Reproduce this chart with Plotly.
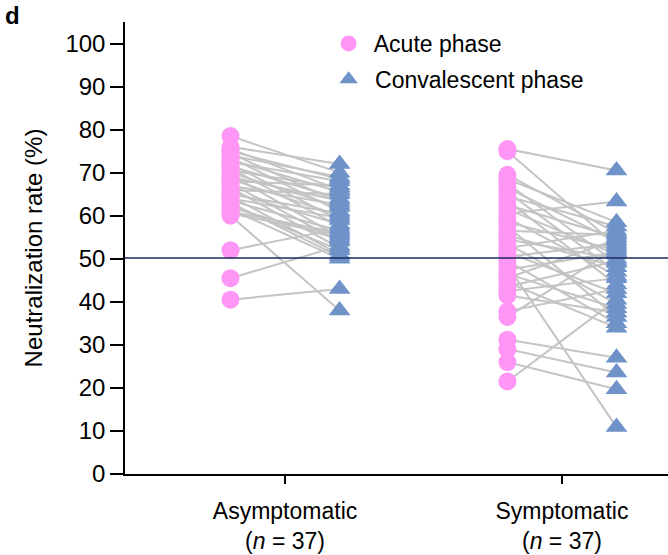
import plotly.graph_objects as go

categories = ["Asymptomatic<br>(<i>n</i> = 37)", "Symptomatic<br>(<i>n</i> = 37)"]
y_ticks = [0, 10, 20, 30, 40, 50, 60, 70, 80, 90, 100]
threshold = 50.2

asym_acute = [78.5, 76, 75.5, 75, 74.5, 74, 73.5, 73, 72.5, 72, 71.5, 71, 70.5, 70, 69.5, 69,
              68.5, 68, 67.5, 67, 66.5, 66, 65.5, 65, 64.5, 64, 63.5, 63, 62.5, 62, 61.5, 61,
              60.5, 60, 52, 45.5, 40.5]
asym_conv = [70, 72, 66, 68.5, 63, 69, 61, 65.5, 68, 59, 64, 57.5, 66.5, 62, 55, 63.5,
             60, 67, 54, 62.5, 52.5, 65, 58, 60.5, 51, 59.5, 56.5, 50.5, 52, 54.5, 50, 56,
             55.5, 38, 57, 53, 43]

sym_acute = [75.5, 75, 69.5, 68.5, 67.5, 66.5, 65.5, 64.5, 63.5, 62.5, 61.5, 60.5, 59.5, 58.5,
             57.5, 56.5, 55.5, 54.5, 53.5, 52.5, 51.5, 50.5, 49.5, 48.5, 47.5, 46.5, 45.5, 44.5,
             43.5, 42.5, 41.5, 37.8, 36.5, 31.2, 29, 26, 21.5]
sym_conv = [70.5, 53, 56, 58.5, 49, 54, 47, 57.5, 44, 55, 51, 63.3, 46, 52, 36.5, 55.5,
            48, 50, 39.5, 56.5, 42, 53.5, 35, 10.9, 51.5, 38.5, 54.5, 34, 49.5, 45.5, 37.5,
            43, 52.5, 27, 23.6, 19.7, 40.5]

group_pos = [1, 2]
offset = 0.197

PINK = "#FF96F5"
BLUE = "#6F93C9"
GRAY = "#C4C4C4"
NAVY = "#1B2A5E"
FONT = "Liberation Sans, Arial, Helvetica, sans-serif"

fig = go.Figure()

# connecting lines
lx, ly = [], []
for pos, acute, conv in [(group_pos[0], asym_acute, asym_conv), (group_pos[1], sym_acute, sym_conv)]:
    for a, c in zip(acute, conv):
        lx += [pos - offset, pos + offset, None]
        ly += [a, c, None]
fig.add_trace(go.Scatter(x=lx, y=ly, mode="lines", line=dict(color=GRAY, width=2),
                         showlegend=False, hoverinfo="skip"))

ax = [group_pos[0] - offset] * len(asym_acute) + [group_pos[1] - offset] * len(sym_acute)
cx = [group_pos[0] + offset] * len(asym_conv) + [group_pos[1] + offset] * len(sym_conv)

fig.add_trace(go.Scatter(x=ax, y=asym_acute + sym_acute, mode="markers", name=" Acute phase",
                         legendgroup="a",
                         marker=dict(symbol="circle", size=18, color=PINK, line=dict(width=0))))
fig.add_trace(go.Scatter(x=cx, y=asym_conv + sym_conv, mode="markers", name=" Convalescent phase",
                         legendgroup="b",
                         marker=dict(symbol="triangle-up", size=19, color=BLUE, line=dict(width=0))))

fig.add_shape(type="line", xref="paper", yref="y", x0=0, x1=1, y0=threshold, y1=threshold,
              line=dict(color=NAVY, width=1.5))

fig.add_annotation(text="<b>d</b>", xref="paper", yref="paper", x=-122 / 543, y=1 + 22 / 452,
                   xanchor="left", yanchor="top", showarrow=False,
                   font=dict(size=24, color="black", family=FONT))

fig.update_layout(
    width=668, height=555,
    margin=dict(l=125, r=0, t=22, b=81),
    paper_bgcolor="white", plot_bgcolor="white",
    font=dict(family=FONT, size=23, color="black"),
    legend=dict(x=0.375, y=1.0, xanchor="left", yanchor="top", bgcolor="rgba(0,0,0,0)",
                font=dict(size=23), tracegroupgap=3, traceorder="grouped", itemsizing="trace"),
    xaxis=dict(range=[0.422, 2.383], tickvals=group_pos, ticktext=categories,
               showline=True, linecolor="black", linewidth=1.5, ticks="outside", ticklen=8,
               tickcolor="black", tickwidth=1.5, showgrid=False, zeroline=False,
               tickfont=dict(size=23), ticklabelstandoff=8),
    yaxis=dict(range=[0, 105], tickvals=y_ticks, showline=True, linecolor="black", linewidth=1.5,
               ticks="outside", ticklen=13, tickcolor="black", tickwidth=1.5, showgrid=False,
               zeroline=False, tickfont=dict(size=24),
               title=dict(text="Neutralization rate (%)", font=dict(size=24), standoff=16)),
)

fig.write_html("out.html")
